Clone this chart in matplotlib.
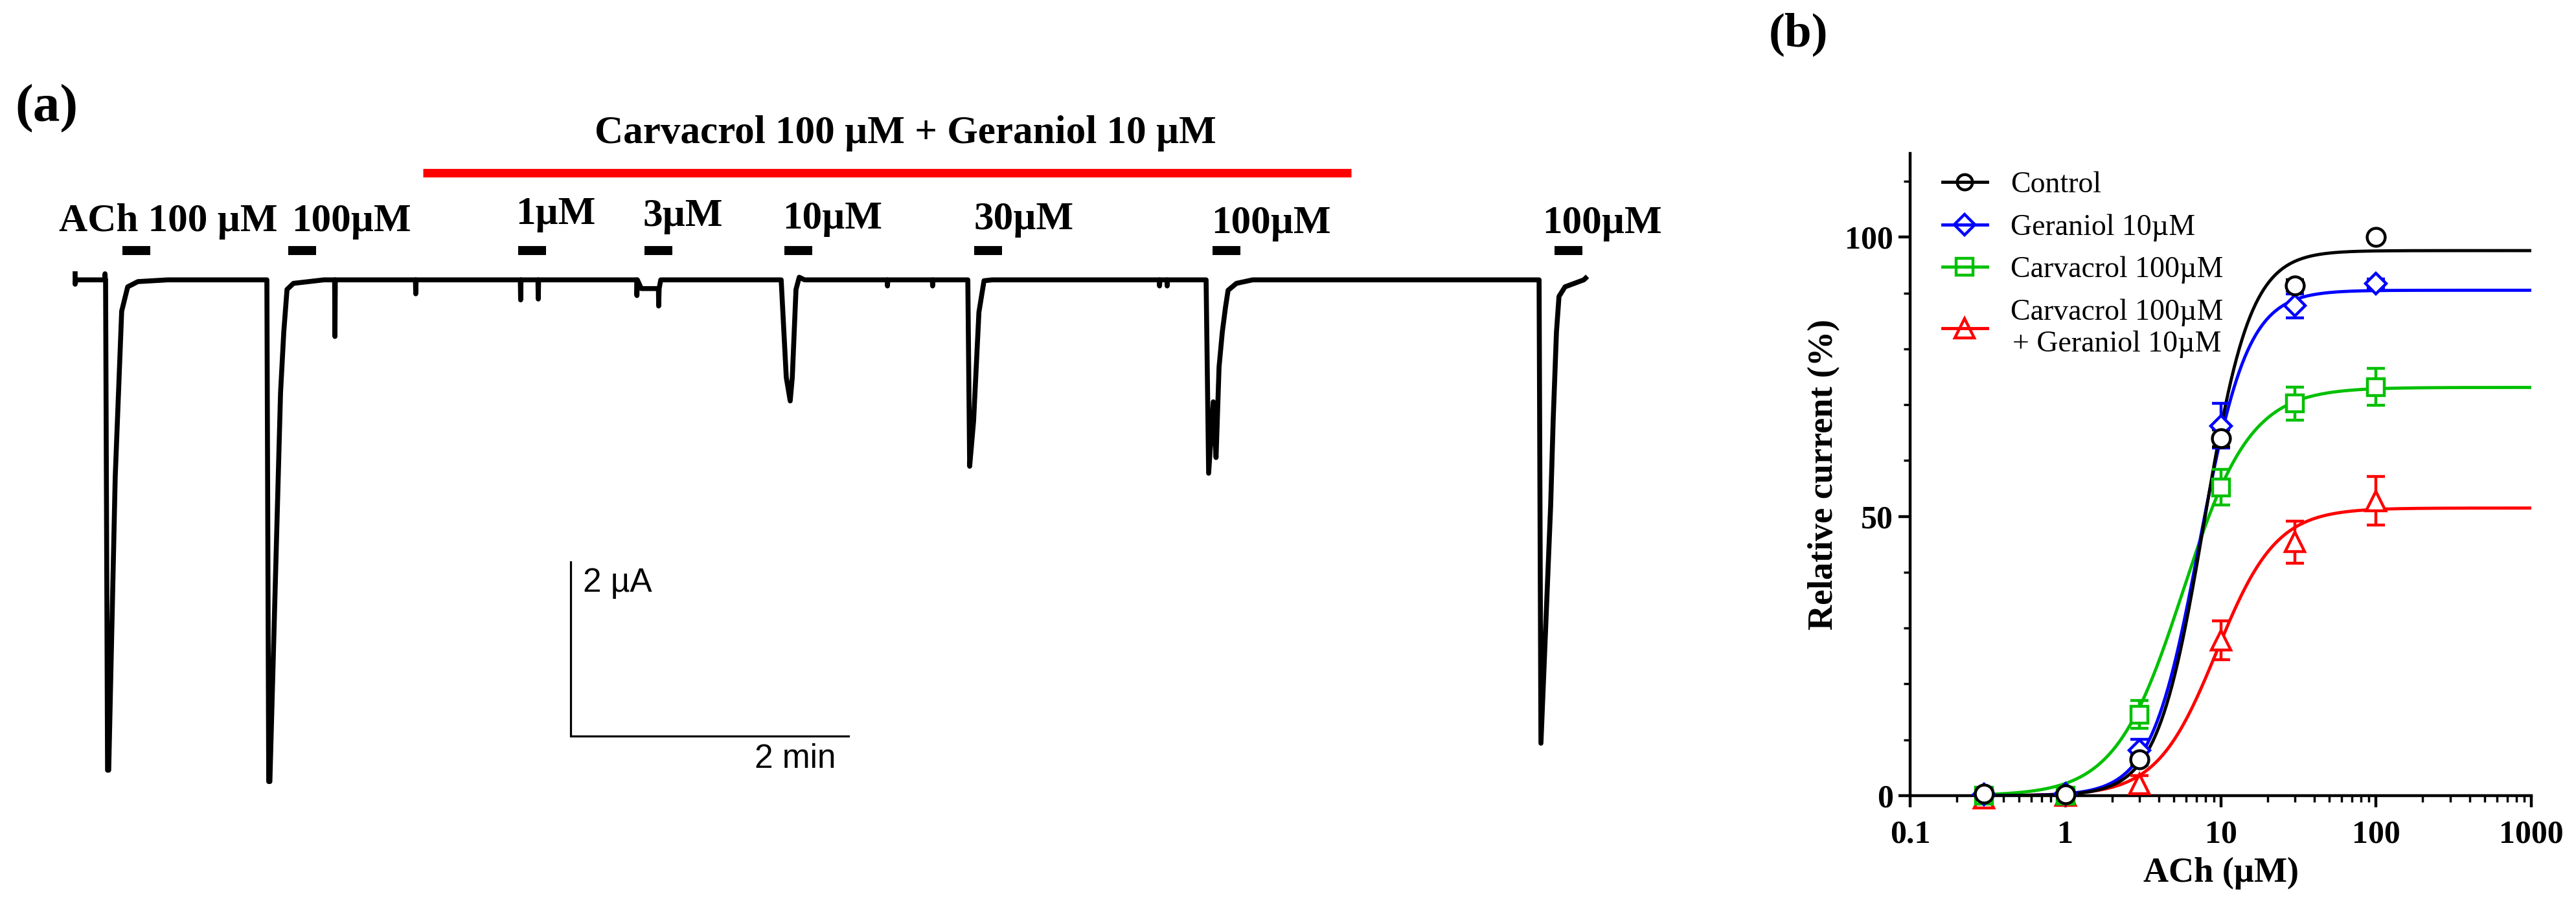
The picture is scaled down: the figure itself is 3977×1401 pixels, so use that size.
import numpy as np
import matplotlib
matplotlib.use('Agg')
import matplotlib.pyplot as plt
from matplotlib.lines import Line2D
from matplotlib.ticker import MultipleLocator, LogLocator, NullFormatter, FixedLocator, FixedFormatter

plt.rcParams['font.family'] = 'Liberation Serif'

# ---------------- (a) current trace, time in s, current in uA ----------------
# ACh responses as polyline vertices
ach1_t = [13.15, 14.0, 14.5, 17.3, 20.1, 22.7, 27.1, 40.0]
ach1_i = [0.0, -5.63, -5.63, -2.27, -0.36, -0.08, -0.02, 0.0]
ach2_t = [82.8, 83.6, 84.1, 88.7, 90.1, 91.5, 94.3, 107.4]
ach2_i = [0.0, -5.76, -5.76, -1.30, -0.60, -0.11, -0.04, 0.0]
ach3um_t = [242.5, 242.6, 242.8, 244.5, 251.9, 252.0, 252.2, 252.9]
ach3um_i = [0.0, -0.18, 0.0, -0.10, -0.10, -0.30, -0.10, 0.0]
ach10um_t = [304.9, 307.1, 308.8, 309.7, 311.3, 312.7, 315.0]
ach10um_i = [0.0, -1.12, -1.39, -1.12, -0.11, 0.03, 0.0]
ach30um_t = [385.5, 386.3, 388.0, 390.3, 392.5, 396.0]
ach30um_i = [0.0, -2.14, -1.62, -0.37, -0.01, 0.0]
ach100um_t = [488.4, 489.5, 491.5, 492.7, 494.0, 495.4, 496.8, 497.9, 501.5, 508.5]
ach100um_i = [0.0, -2.22, -1.40, -2.04, -1.00, -0.60, -0.31, -0.12, -0.04, 0.0]
wash_t = [632.2, 633.0, 637.2, 638.3, 639.7, 640.8, 643.4, 651.5]
wash_i = [0.0, -5.32, -2.59, -1.60, -0.60, -0.19, -0.08, 0.0]
# short artefacts (valve switching)
spike_t = [12.9, 112.2, 147.1, 192.4, 200.0, 350.8, 370.3, 468.3, 471.6]
spike_i = [0.07, -0.65, -0.16, -0.23, -0.22, -0.07, -0.07, -0.07, -0.07]
trace_end = 652.3

# application bars (start time) and labels
bar_start = [20.4, 92.1, 191.3, 245.9, 306.3, 388.3, 491.2, 638.9]
bar_len = 12.0
lab_text = ['ACh 100 \u00b5M', '100\u00b5M', '1\u00b5M', '3\u00b5M', '10\u00b5M', '30\u00b5M', '100\u00b5M', '100\u00b5M']
lab_x = [-7.0, 93.4, 190.2, 245.3, 305.5, 388.0, 490.6, 633.6]
lab_y = [0.56, 0.56, 0.64, 0.62, 0.59, 0.58, 0.535, 0.535]
drug_span = [150.2, 551.0]
drug_text = 'Carvacrol 100 \u00b5M + Geraniol 10 \u00b5M'

# ---------------- (b) concentration-response ----------------
conc = [0.3, 1, 3, 10, 30, 100]
ctrl_mean = [0.3, 0.2, 6.5, 64.0, 91.4, 100.0]
ctrl_sem = [0, 0, 1.0, 1.5, 1.0, 0]
ger_mean = [0.2, 0.3, 8.1, 66.2, 87.7, 91.7]
ger_sem = [0, 0, 2.0, 4.0, 2.2, 0.8]
carv_mean = [0.0, 0.0, 14.5, 55.2, 70.2, 73.2]
carv_sem = [0, 0, 2.5, 3.2, 3.0, 3.3]
comb_mean = [-0.5, 0.0, 2.1, 27.8, 45.4, 52.8]
comb_sem = [0, 0, 1.5, 3.5, 3.8, 4.3]

# Hill fits (top, EC50, nH)
ctrl_fit = [97.6, 7.8, 2.9]
ger_fit = [90.5, 7.3, 2.8]
carv_fit = [73.1, 5.7, 2.0]
comb_fit = [51.5, 9.4, 2.26]

fig = plt.figure(figsize=(39.77, 14.01), dpi=100)

# ---- panel a ----
ax = fig.add_axes([116/3977, 1-1300/1401, (2448-116)/3977, 1200/1401])
ax.set_xlim(0, trace_end)
ax.set_ylim(-6.45, 2.47)
ax.axis('off')

segs = [(ach1_t, ach1_i), (ach2_t, ach2_i), (ach3um_t, ach3um_i), (ach10um_t, ach10um_i),
        (ach30um_t, ach30um_i), (ach100um_t, ach100um_i), (wash_t, wash_i)]
for t, i in zip(spike_t, spike_i):
    segs.append(([t-0.15, t, t+0.15], [0, i, 0]))
segs.sort(key=lambda s: s[0][0])
tt = [0.0, 0.0, 0.4]
ii = [0.07, -0.05, 0.0]
for st, si in segs:
    tt += list(st)
    ii += list(si)
tt.append(trace_end)
ii.append(0.02)
ax.plot(tt, ii, color='black', lw=5.5, solid_joinstyle='round', clip_on=False)

for b in bar_start:
    ax.plot([b, b+bar_len], [0.335, 0.335], color='black', lw=10, solid_capstyle='butt')
for s, x, y in zip(lab_text, lab_x, lab_y):
    ax.text(x, y, s, fontsize=44, fontweight='bold', ha='left', va='baseline')

ax.plot(drug_span, [1.227, 1.227], color='#ff0000', lw=9.5, solid_capstyle='butt')
ax.text(np.mean(drug_span) + 8, 1.57, drug_text, fontsize=44, fontweight='bold', ha='center', va='baseline')

# scale bar
ax.plot([214.0, 214.0, 334.0], [-3.24, -5.24, -5.24], color='black', lw=2.3, solid_joinstyle='miter')
ax.text(219.3, -3.58, '2 \u00b5A', fontsize=37, family='Liberation Sans', va='baseline')
ax.text(293.4, -5.60, '2 min', fontsize=37, family='Liberation Sans', va='baseline')

fig.text(72/3977, 1-168/1401, '(a)', fontsize=60, fontweight='bold', ha='center', va='center')

# ---- panel b ----
bx = fig.add_axes([2949/3977, 1-1229/1401, (3908-2949)/3977, (1229-237)/1401])
xs = np.logspace(np.log10(0.3), 3, 400)

def hill(x, p):
    return p[0] / (1 + (p[1]/x)**p[2])

series = [
    (comb_mean, comb_sem, comb_fit, '#ff0000', '^', 21),
    (carv_mean, carv_sem, carv_fit, '#00c000', 's', 19),
    (ger_mean, ger_sem, ger_fit, '#0000ff', 'D', 16),
    (ctrl_mean, ctrl_sem, ctrl_fit, 'black', 'o', 20),
]
for k, (m, e, p, c, mk, ms) in enumerate(series):
    bx.plot(xs, hill(xs, p), color=c, lw=3.5, zorder=2 + k*0.1)
    bx.errorbar(conc, m, yerr=e, fmt=mk, color=c, mfc='white', mec=c, mew=3.2, ms=ms,
                ecolor=c, elinewidth=3.2, capsize=10, capthick=3.2, zorder=3 + k*0.1, clip_on=False)

bx.set_xscale('log')
bx.set_xlim(0.1, 1000)
bx.set_ylim(0, 115)
for sp in ['top', 'right']:
    bx.spines[sp].set_visible(False)
for sp in ['left', 'bottom']:
    bx.spines[sp].set_linewidth(3.2)
bx.xaxis.set_major_locator(FixedLocator([0.1, 1, 10, 100, 1000]))
bx.xaxis.set_major_formatter(FixedFormatter(['0.1', '1', '10', '100', '1000']))
bx.xaxis.set_minor_locator(LogLocator(base=10, subs=np.arange(2, 10), numticks=20))
bx.xaxis.set_minor_formatter(NullFormatter())
bx.yaxis.set_major_locator(FixedLocator([0, 50, 100]))
bx.yaxis.set_minor_locator(MultipleLocator(10))
bx.tick_params(which='major', direction='out', length=13, width=3.2, labelsize=36, pad=6)
bx.tick_params(which='minor', direction='out', length=7, width=2.5)
bx.tick_params(axis='x', which='major', pad=14)
for lbl in bx.get_xticklabels() + bx.get_yticklabels():
    lbl.set_fontweight('bold')

bx.set_xlabel('ACh (\u00b5M)', fontsize=39, fontweight='bold')
bx.set_ylabel('Relative current (%)', fontsize=39, fontweight='bold')
bx.xaxis.set_label_coords(0.5, -0.095)
bx.yaxis.set_label_coords(-0.112, 0.5)

handles = [
    Line2D([], [], color='black', marker='o', mfc='none', mec='black', mew=3.2, ms=17, lw=3.5),
    Line2D([], [], color='#0000ff', marker='D', mfc='none', mec='#0000ff', mew=3.2, ms=16, lw=3.5),
    Line2D([], [], color='#00c000', marker='s', mfc='none', mec='#00c000', mew=3.2, ms=19, lw=3.5),
    Line2D([], [], color='#ff0000', marker='^', mfc='none', mec='#ff0000', mew=3.2, ms=21, lw=3.5),
]
labels = ['Control', 'Geraniol 10\u00b5M', 'Carvacrol 100\u00b5M', 'Carvacrol 100\u00b5M\n+ Geraniol 10\u00b5M']
leg = bx.legend(handles, labels, loc='upper left', bbox_to_anchor=(0.052, 0.972), frameon=False,
                prop={'family': 'Liberation Serif', 'size': 33}, handlelength=1.5,
                handletextpad=0.8, labelspacing=0.5, borderaxespad=0, borderpad=0)
leg.get_texts()[3].set_multialignment('center')

fig.text(2777/3977, 1-53/1401, '(b)', fontsize=54, fontweight='bold', ha='center', va='center')

fig.savefig('out.png', dpi=100)
